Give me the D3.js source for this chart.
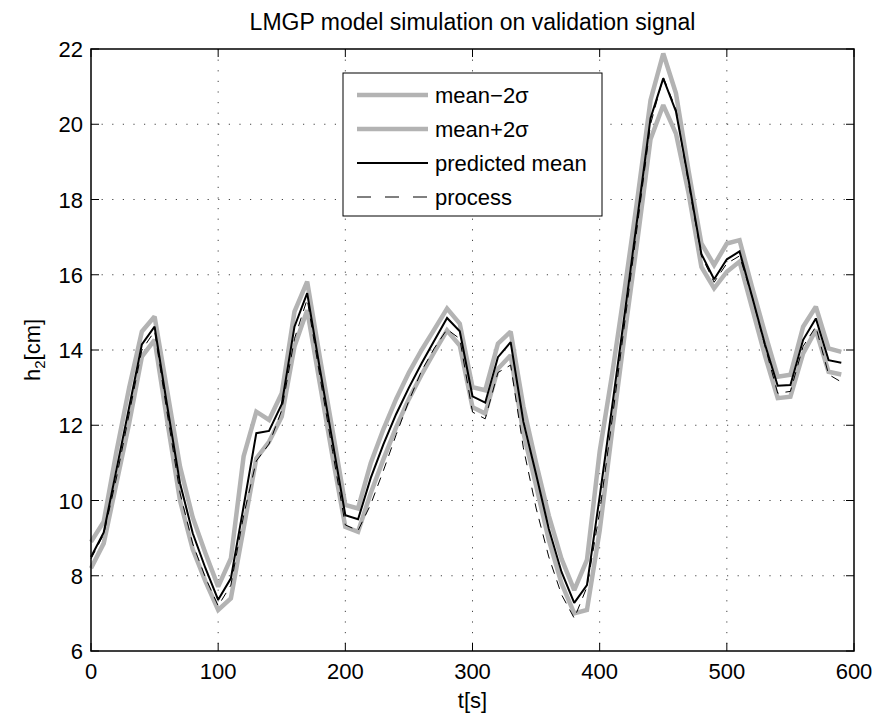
<!DOCTYPE html>
<html>
<head>
<meta charset="utf-8">
<script src="https://cdn.jsdelivr.net/npm/d3@7"></script>
<style>
  body { margin: 0; background: #fff; }
  svg { display: block; font-family: "Liberation Sans", Arial, sans-serif; }
</style>
</head>
<body>
<div id="chart"></div>
<script>
// sample times (s)
const times = [0, 10, 20, 30, 40, 50, 60, 70, 80, 90, 100, 110, 120, 130, 140, 150, 160, 170, 180, 190,
  200, 210, 220, 230, 240, 250, 260, 270, 280, 290, 300, 310, 320, 330, 340, 350, 360, 370, 380, 390,
  400, 410, 420, 430, 440, 450, 460, 470, 480, 490, 500, 510, 520, 530, 540, 550, 560, 570, 580, 590];

// predicted mean h2 [cm]
const predictedMean = [8.5, 9.15, 10.82, 12.48, 14.15, 14.62, 12.5, 10.46, 9.13, 8.2, 7.36, 7.93, 9.84, 11.79, 11.85, 12.56, 14.62, 15.51, 13.5, 11.55,
  9.61, 9.5, 10.6, 11.5, 12.3, 13.0, 13.65, 14.25, 14.85, 14.5, 12.77, 12.6, 13.81, 14.21, 12.1, 10.7, 9.25, 8.1, 7.28, 7.75,
  10.1, 12.55, 15.05, 17.6, 20.16, 21.22, 20.34, 18.5, 16.55, 15.88, 16.41, 16.62, 15.4, 14.15, 13.05, 13.07, 14.27, 14.84, 13.73, 13.66];

// mean + 2 sigma
const upperBound = [8.9, 9.44, 11.3, 13.0, 14.49, 14.89, 12.9, 10.9, 9.55, 8.6, 7.71, 8.46, 11.17, 12.36, 12.14, 12.85, 15.02, 15.82, 13.8, 11.85,
  9.88, 9.79, 11.0, 11.9, 12.7, 13.4, 14.0, 14.55, 15.1, 14.7, 13.01, 12.93, 14.17, 14.49, 12.5, 11.0, 9.6, 8.45, 7.62, 8.42,
  11.3, 13.4, 15.7, 18.1, 20.64, 21.88, 20.82, 18.75, 16.83, 16.26, 16.83, 16.92, 15.65, 14.45, 13.29, 13.34, 14.62, 15.15, 14.04, 13.95];

// mean - 2 sigma
const lowerBound = [8.2, 8.86, 10.46, 12.05, 13.82, 14.27, 12.1, 10.0, 8.7, 7.85, 7.09, 7.4, 9.26, 11.12, 11.56, 12.23, 14.09, 15.06, 13.1, 11.15,
  9.3, 9.17, 10.2, 11.1, 11.95, 12.7, 13.35, 13.95, 14.52, 14.12, 12.48, 12.31, 13.5, 13.86, 11.8, 10.4, 8.95, 7.8, 7.0, 7.09,
  9.2, 11.9, 14.5, 17.0, 19.6, 20.51, 19.75, 18.15, 16.21, 15.64, 16.08, 16.35, 15.1, 13.85, 12.72, 12.76, 13.91, 14.53, 13.42, 13.35];

// measured process output
const processValues = [8.45, 9.1, 10.6, 12.3, 14.0, 14.5, 12.3, 10.2, 8.85, 7.95, 7.2, 7.75, 9.6, 11.05, 11.5, 12.4, 14.3, 15.35, 13.3, 11.3,
  9.35, 9.2, 9.9, 10.8, 11.75, 12.65, 13.45, 14.05, 14.55, 14.3, 12.35, 12.17, 13.4, 13.6, 11.4, 9.8, 8.5, 7.5, 6.87, 7.7,
  9.7, 12.2, 14.8, 17.4, 20.0, 21.25, 20.4, 18.4, 16.5, 15.8, 16.3, 16.5, 15.4, 14.1, 12.85, 12.9, 14.1, 14.62, 13.35, 13.15];

const xTicks = [0, 100, 200, 300, 400, 500, 600];
const yTicks = [6, 8, 10, 12, 14, 16, 18, 20, 22];

const width = 881;
const height = 719;
//plot box edges in pixels
const marginLeft = 91;
const marginRight = 27;
const marginTop = 49;
const marginBottom = 68;

const gray = "#b3b3b3";
const tickLen = 8;

const x = d3.scaleLinear().domain([0, 600]).range([marginLeft, width - marginRight]);
const y = d3.scaleLinear().domain([6, 22]).range([height - marginBottom, marginTop]);

const svg = d3.select("#chart").append("svg")
  .attr("width", width)
  .attr("height", height)
  .attr("viewBox", [0, 0, width, height]);

svg.append("rect").attr("width", width).attr("height", height).attr("fill", "#fff");

// dotted grid
const grid = svg.append("g")
  .attr("stroke", "#444")
  .attr("stroke-width", 1)
  .attr("stroke-dasharray", "1.2,9.4");
grid.selectAll(".gx")
  .data(xTicks.slice(1, -1))
  .join("line")
  .attr("x1", d => x(d)).attr("x2", d => x(d))
  .attr("y1", y(22)).attr("y2", y(6));
grid.selectAll(".gy")
  .data(yTicks.slice(1, -1))
  .join("line")
  .attr("y1", d => y(d)).attr("y2", d => y(d))
  .attr("x1", x(0)).attr("x2", x(600));

// series lines
const rows = times.map((t, i) => ({ t, mean: predictedMean[i], up: upperBound[i], lo: lowerBound[i], proc: processValues[i] }));
const lineOf = key => d3.line().x(d => x(d.t)).y(d => y(d[key]));

const series = [
  { key: "lo", label: "mean\u22122\u03c3", color: gray, w: 4.5, dash: null },
  { key: "up", label: "mean+2\u03c3", color: gray, w: 4.5, dash: null },
  { key: "mean", label: "predicted mean", color: "#000", w: 2, dash: null },
  { key: "proc", label: "process", color: "#000", w: 1, dash: "9,7" }
];

svg.append("g")
  .attr("fill", "none")
  .selectAll("path")
  .data(series)
  .join("path")
  .attr("d", s => lineOf(s.key)(rows))
  .attr("stroke", s => s.color)
  .attr("stroke-width", s => s.w)
  .attr("stroke-dasharray", s => s.dash)
  .attr("stroke-linejoin", "miter")
  .attr("stroke-miterlimit", 2);

// axes box with inward ticks on all sides
const axes = svg.append("g").attr("stroke", "#000").attr("stroke-width", 1);
axes.selectAll(".tb")
  .data(xTicks)
  .join("g")
  .call(g => g.append("line").attr("x1", d => x(d)).attr("x2", d => x(d)).attr("y1", y(6)).attr("y2", y(6) - tickLen))
  .call(g => g.append("line").attr("x1", d => x(d)).attr("x2", d => x(d)).attr("y1", y(22)).attr("y2", y(22) + tickLen));
axes.selectAll(".tl")
  .data(yTicks)
  .join("g")
  .call(g => g.append("line").attr("y1", d => y(d)).attr("y2", d => y(d)).attr("x1", x(0)).attr("x2", x(0) + tickLen))
  .call(g => g.append("line").attr("y1", d => y(d)).attr("y2", d => y(d)).attr("x1", x(600)).attr("x2", x(600) - tickLen));
svg.append("rect")
  .attr("x", x(0)).attr("y", y(22))
  .attr("width", x(600) - x(0)).attr("height", y(6) - y(22))
  .attr("fill", "none").attr("stroke", "#000").attr("stroke-width", 1.5);

// tick labels
svg.append("g")
  .attr("font-size", "22px")
  .attr("text-anchor", "middle")
  .selectAll("text")
  .data(xTicks)
  .join("text")
  .attr("x", d => x(d))
  .attr("y", y(6) + 28)
  .text(d => d);
svg.append("g")
  .attr("font-size", "22px")
  .attr("text-anchor", "end")
  .selectAll("text")
  .data(yTicks)
  .join("text")
  .attr("x", x(0) - 8)
  .attr("y", d => y(d) + 8)
  .text(d => d);

// title and axis labels
svg.append("text")
  .attr("x", (x(0) + x(600)) / 2)
  .attr("y", 30)
  .attr("text-anchor", "middle")
  .attr("font-size", "23px")
  .text("LMGP model simulation on validation signal");

svg.append("text")
  .attr("x", (x(0) + x(600)) / 2)
  .attr("y", 708)
  .attr("text-anchor", "middle")
  .attr("font-size", "22px")
  .text("t[s]");

const yLabel = svg.append("text")
  .attr("transform", `translate(40,${(y(6) + y(22)) / 2}) rotate(-90)`)
  .attr("text-anchor", "middle")
  .attr("font-size", "22px");
yLabel.append("tspan").text("h");
yLabel.append("tspan").attr("font-size", "15px").attr("dy", 5).text("2");
yLabel.append("tspan").attr("dy", -5).text("[cm]");

// legend
const legend = svg.append("g");
legend.append("rect")
  .attr("x", 343).attr("y", 73).attr("width", 259).attr("height", 143)
  .attr("fill", "#fff").attr("stroke", "#000").attr("stroke-width", 1);
const entry = legend.selectAll(".entry")
  .data(series)
  .join("g")
  .attr("transform", (d, i) => `translate(0,${95 + i * 34})`);
entry.append("line")
  .attr("x1", 357).attr("x2", 428)
  .attr("stroke", s => s.color)
  .attr("stroke-width", s => s.w)
  .attr("stroke-dasharray", s => s.dash ? "14,14" : null);
entry.append("text")
  .attr("x", 435).attr("y", 8)
  .attr("font-size", "22px")
  .text(s => s.label);
</script>
</body>
</html>
